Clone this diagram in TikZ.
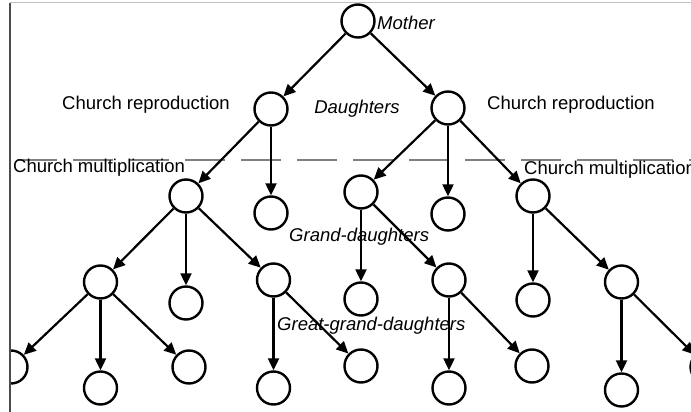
\documentclass[tikz,border=0pt]{standalone}
\usepackage{fontspec}
\setmainfont{Liberation Sans}
\usetikzlibrary{arrows.meta}
\begin{document}
\begin{tikzpicture}[x=1pt,y=-1pt,
  nd/.style={circle,draw,line width=2.4pt,minimum size=33pt,inner sep=0pt},
  ar/.style={line width=2.2pt,-{Triangle[length=12pt,width=11pt]}},
  lbl/.style={font=\fontsize{18.5}{20}\selectfont,inner sep=0pt},
  ilbl/.style={font=\fontsize{18.5}{20}\selectfont\itshape,inner sep=0pt},
  sep/.style={draw=gray,line width=1.2pt,dash pattern=on 40pt off 16pt}]
\useasboundingbox (0,0) rectangle (691,412);
\fill[white] (0,0) rectangle (691,412);
\begin{scope}
\clip (10,3) rectangle (691,412);
% separator
\coordinate (s1) at (17,160);
\coordinate (s2) at (700,160);
\draw[sep] (s1) -- (s2);
% labels
\node[ilbl,anchor=west] (tm) at (377,23) {Mother};
\node[lbl,anchor=west] (tcr1) at (62,105) {Church reproduction};
\node[lbl,anchor=west] (tcr2) at (487,105) {Church reproduction};
\node[ilbl] (td) at (357,109) {Daughters};
\node[lbl,anchor=west] (tcm1) at (13,168) {Church multiplication};
\node[lbl,anchor=west] (tcm2) at (524,170) {Church multiplication};
\node[ilbl,anchor=west] (tg) at (289,237) {Grand-daughters};
\node[ilbl,anchor=west] (tgg) at (277,326) {Great-grand-daughters};
% nodes
\node[nd] (m) at (358,21) {};
\node[nd] (dl) at (271,109) {};
\node[nd] (dr) at (448,108) {};
\node[nd] (a1) at (186,196) {};
\node[nd] (a2) at (271,213) {};
\node[nd] (a3) at (361,192) {};
\node[nd] (a4) at (448,214) {};
\node[nd] (a5) at (533,196) {};
\node[nd] (b1) at (100.5,282) {};
\node[nd] (b2) at (186,303) {};
\node[nd] (b3) at (273.5,280) {};
\node[nd] (b4) at (361,299) {};
\node[nd] (b5) at (449,280) {};
\node[nd] (b6) at (533,300) {};
\node[nd] (b7) at (621.5,282) {};
\node[nd] (c1) at (11,367) {};
\node[nd] (c2) at (100.5,388) {};
\node[nd] (c3) at (189,367) {};
\node[nd] (c4) at (273.5,388) {};
\node[nd] (c5) at (361,366) {};
\node[nd] (c6) at (449,388) {};
\node[nd] (c7) at (532,366) {};
\node[nd] (c8) at (621.5,390) {};
\node[nd] (c9) at (707,367) {};
% edges
\draw[ar] (m) -- (dl);
\draw[ar] (m) -- (dr);
\draw[ar] (dl) -- (a1);
\draw[ar] (dl) -- (a2);
\draw[ar] (dr) -- (a3);
\draw[ar] (dr) -- (a4);
\draw[ar] (dr) -- (a5);
\draw[ar] (a1) -- (b1);
\draw[ar] (a1) -- (b2);
\draw[ar] (a1) -- (b3);
\draw[ar] (a3) -- (b4);
\draw[ar] (a3) -- (b5);
\draw[ar] (a5) -- (b6);
\draw[ar] (a5) -- (b7);
\draw[ar] (b1) -- (c1);
\draw[ar] (b1) -- (c2);
\draw[ar] (b1) -- (c3);
\draw[ar] (b3) -- (c4);
\draw[ar] (b3) -- (c5);
\draw[ar] (b5) -- (c6);
\draw[ar] (b5) -- (c7);
\draw[ar] (b7) -- (c8);
\draw[ar] (b7) -- (c9);
\end{scope}
% frame
\coordinate (f1) at (10,3);
\coordinate (f2) at (691,3);
\coordinate (f3) at (10,412);
\draw[gray!50,line width=1pt] (f1) -- (f2);
\draw[black!70,line width=2pt] (f1) -- (f3);
\end{tikzpicture}
\end{document}
